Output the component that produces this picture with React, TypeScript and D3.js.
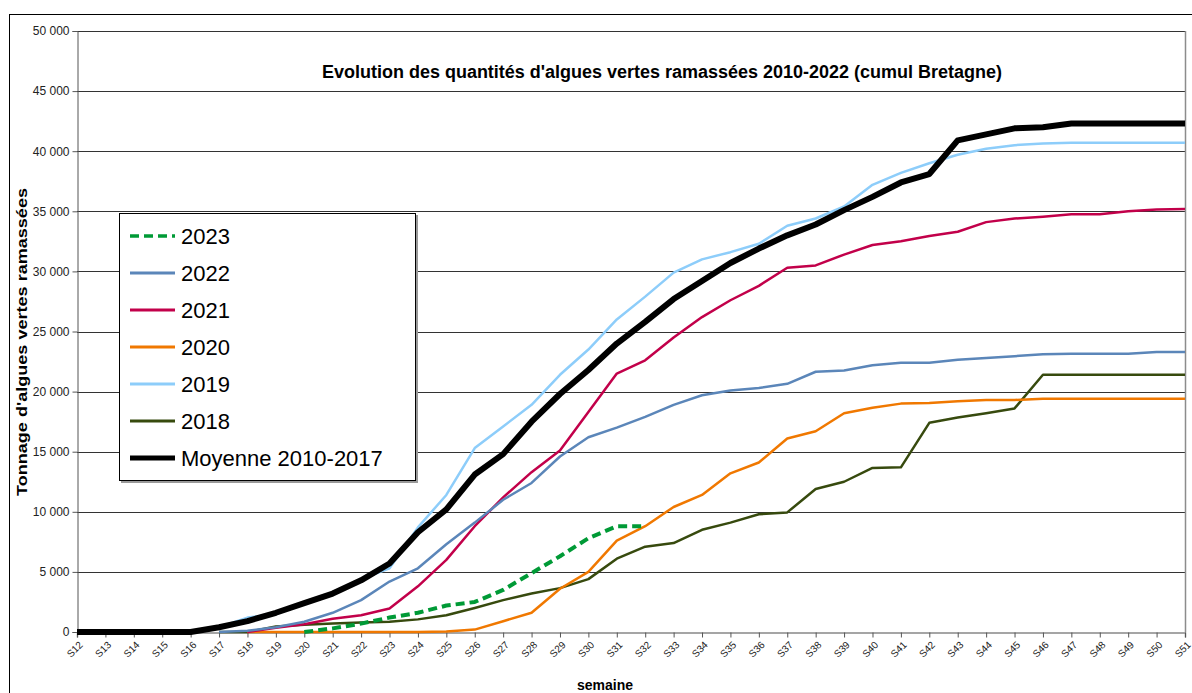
import React, { useEffect, useRef } from "react";
import * as d3 from "d3";

const weeks = [
  "S12", "S13", "S14", "S15", "S16", "S17", "S18", "S19", "S20", "S21",
  "S22", "S23", "S24", "S25", "S26", "S27", "S28", "S29", "S30", "S31",
  "S32", "S33", "S34", "S35", "S36", "S37", "S38", "S39", "S40", "S41",
  "S42", "S43", "S44", "S45", "S46", "S47", "S48", "S49", "S50", "S51",
];

const yTicks = [0, 5000, 10000, 15000, 20000, 25000, 30000, 35000, 40000, 45000, 50000];

const N = null;

const moyenne = [
  0, 0, 0, 0, 0, 400, 900, 1600, 2400, 3200,
  4300, 5700, 8300, 10200, 13100, 14800, 17500, 19800, 21800, 24000,
  25800, 27700, 29200, 30700, 31900, 33000, 33900, 35100, 36200, 37400,
  38100, 40900, 41400, 41900, 42000, 42300, 42300, 42300, 42300, 42300,
];

const y2019 = [
  N, N, N, N, 0, 400, 1200, 1500, 2400, 3200,
  4400, 5300, 8700, 11400, 15300, 17100, 18900, 21400, 23500, 26000,
  27900, 29900, 31000, 31600, 32300, 33800, 34400, 35400, 37200, 38200,
  39000, 39700, 40200, 40500, 40650, 40700, 40700, 40700, 40700, 40700,
];

const y2022 = [
  N, N, N, N, N, 0, 100, 400, 850, 1600,
  2650, 4200, 5300, 7300, 9100, 11000, 12400, 14600, 16200, 17000,
  17900, 18900, 19700, 20100, 20300, 20650, 21650, 21750, 22200, 22400,
  22400, 22650, 22800, 22950, 23100, 23150, 23150, 23150, 23300, 23300,
];

const y2021 = [
  N, N, N, N, N, N, 0, 350, 650, 1100,
  1400, 1950, 3800, 6000, 8800, 11200, 13300, 15100, 18300, 21500,
  22600, 24500, 26200, 27600, 28800, 30300, 30500, 31400, 32200, 32500,
  32950, 33300, 34100, 34400, 34550, 34750, 34750, 35000, 35150, 35200,
];

const y2020 = [
  N, N, N, N, N, N, 0, 0, 0, 0,
  0, 0, 0, 50, 200, 900, 1600, 3600, 5000, 7600,
  8800, 10400, 11400, 13200, 14100, 16100, 16700, 18200, 18650, 19000,
  19050, 19200, 19300, 19300, 19400, 19400, 19400, 19400, 19400, 19400,
];

const y2018 = [
  N, N, N, N, N, 0, 0, 450, 600, 700,
  800, 850, 1050, 1400, 2000, 2650, 3200, 3650, 4400, 6100,
  7100, 7400, 8500, 9100, 9800, 9950, 11900, 12500, 13650, 13700,
  17400, 17850, 18200, 18600, 21400, 21400, 21400, 21400, 21400, 21400,
];

const y2023 = [
  N, N, N, N, N, N, N, N, 0, 300,
  700, 1200, 1600, 2200, 2500, 3500, 4900, 6300, 7800, 8800,
  8800, N, N, N, N, N, N, N, N, N,
  N, N, N, N, N, N, N, N, N, N,
];

const series = [
  { name: "2023", values: y2023, color: "#009a36", width: 4, dash: "9,5" },
  { name: "2022", values: y2022, color: "#5b86b9", width: 2.5, dash: null },
  { name: "2021", values: y2021, color: "#c2004a", width: 2.5, dash: null },
  { name: "2020", values: y2020, color: "#f07800", width: 2.5, dash: null },
  { name: "2019", values: y2019, color: "#8dcdfa", width: 2.5, dash: null },
  { name: "2018", values: y2018, color: "#374a0e", width: 2.5, dash: null },
  { name: "Moyenne 2010-2017", values: moyenne, color: "#000000", width: 6, dash: null },
];

// order in which the lines are painted (last one on top)
const drawOrder = ["2018", "2019", "2020", "2021", "2022", "Moyenne 2010-2017", "2023"];

const FONT = "'Liberation Sans', Arial, sans-serif";

const App = () => {
  const svgRef = useRef(null);

  useEffect(() => {
    const svg = d3.select(svgRef.current);
    svg.selectAll("*").remove();

    const width = 1192;
    const height = 693;
    const plot = { left: 77, right: 1185, top: 31, bottom: 632 };

    const x = d3
      .scalePoint()
      .domain(weeks)
      .range([plot.left, plot.right]);
    const y = d3
      .scaleLinear()
      .domain([0, 50000])
      .range([plot.bottom, plot.top]);

    svg.attr("font-family", FONT);

    // background + outer chart border
    svg.append("rect").attr("width", width).attr("height", height).attr("fill", "#fff");
    svg
      .append("rect")
      .attr("x", 9.5)
      .attr("y", 14.5)
      .attr("width", 1210)
      .attr("height", 700)
      .attr("fill", "none")
      .attr("stroke", "#000")
      .attr("stroke-width", 1);

    // horizontal grid lines
    svg
      .append("g")
      .selectAll("line")
      .data(yTicks.slice(1))
      .join("line")
      .attr("x1", plot.left)
      .attr("x2", plot.right)
      .attr("y1", (d) => Math.round(y(d)) + 0.5)
      .attr("y2", (d) => Math.round(y(d)) + 0.5)
      .attr("stroke", "#333")
      .attr("stroke-width", 1);

    // right plot border
    svg
      .append("line")
      .attr("x1", plot.right + 0.5)
      .attr("x2", plot.right + 0.5)
      .attr("y1", plot.top)
      .attr("y2", plot.bottom)
      .attr("stroke", "#8c8c8c")
      .attr("stroke-width", 1.5);

    // y axis
    const yAxis = d3
      .axisLeft(y)
      .tickValues(yTicks)
      .tickSize(5)
      .tickPadding(3)
      .tickFormat((d) => d3.format(",")(d).replace(/,/g, " "));
    const gy = svg
      .append("g")
      .attr("transform", `translate(${plot.left + 0.5},0)`)
      .call(yAxis);
    gy.select(".domain").attr("stroke", "#555");
    gy.selectAll(".tick line").attr("stroke", "#555");
    gy.selectAll(".tick text")
      .attr("font-size", 12)
      .attr("font-family", FONT)
      .attr("fill", "#222");

    // x axis
    const xAxis = d3.axisBottom(x).tickSize(5).tickFormat("");
    const gx = svg
      .append("g")
      .attr("transform", `translate(0,${plot.bottom + 0.5})`)
      .call(xAxis);
    gx.select(".domain").attr("stroke", "#888").attr("stroke-width", 1.5);
    gx.selectAll(".tick line").attr("stroke", "#555");

    svg
      .append("g")
      .selectAll("text")
      .data(weeks)
      .join("text")
      .attr("transform", (d) => `translate(${x(d) + 4},${plot.bottom + 11}) rotate(-45)`)
      .attr("text-anchor", "end")
      .attr("dy", "0.35em")
      .attr("font-size", 10)
      .attr("fill", "#222")
      .text((d) => d);

    // lines
    const line = d3
      .line()
      .defined((d) => d != null)
      .x((d, i) => x(weeks[i]))
      .y((d) => y(d));

    drawOrder.forEach((name) => {
      const s = series.find((e) => e.name === name);
      svg
        .append("path")
        .datum(s.values)
        .attr("fill", "none")
        .attr("stroke", s.color)
        .attr("stroke-width", s.width)
        .attr("stroke-linejoin", "round")
        .attr("stroke-dasharray", s.dash)
        .attr("d", line);
    });

    // title
    svg
      .append("text")
      .attr("x", 662)
      .attr("y", 78)
      .attr("text-anchor", "middle")
      .attr("font-size", 18)
      .attr("font-weight", "bold")
      .attr("textLength", 680)
      .attr("lengthAdjust", "spacingAndGlyphs")
      .text("Evolution des quantités d'algues vertes ramassées 2010-2022 (cumul Bretagne)");

    // axis titles
    svg
      .append("text")
      .attr("transform", `translate(27,342) rotate(-90)`)
      .attr("text-anchor", "middle")
      .attr("font-size", 15)
      .attr("font-weight", "bold")
      .attr("textLength", 308)
      .attr("lengthAdjust", "spacingAndGlyphs")
      .text("Tonnage d'algues vertes ramassées");

    svg
      .append("text")
      .attr("x", 605)
      .attr("y", 690)
      .attr("text-anchor", "middle")
      .attr("font-size", 14)
      .attr("font-weight", "bold")
      .text("semaine");

    // legend
    const legend = svg.append("g");
    legend
      .append("rect")
      .attr("x", 121)
      .attr("y", 215)
      .attr("width", 297)
      .attr("height", 268)
      .attr("fill", "#9a9a9a");
    legend
      .append("rect")
      .attr("x", 119.5)
      .attr("y", 213.5)
      .attr("width", 296)
      .attr("height", 267)
      .attr("fill", "#fff")
      .attr("stroke", "#000")
      .attr("stroke-width", 1);

    series.forEach((s, i) => {
      const cy = 236 + i * 37;
      legend
        .append("line")
        .attr("x1", 130)
        .attr("x2", 175)
        .attr("y1", cy)
        .attr("y2", cy)
        .attr("stroke", s.color)
        .attr("stroke-width", s.name === "2023" ? 3.5 : s.width === 6 ? 5 : 3)
        .attr("stroke-dasharray", s.dash ? "9,5" : null);
      legend
        .append("text")
        .attr("x", 181)
        .attr("y", cy)
        .attr("dy", "0.36em")
        .attr("font-size", 22)
        .attr("fill", "#000")
        .text(s.name);
    });
  }, []);

  return (
    <svg
      ref={svgRef}
      width={1192}
      height={693}
      style={{ position: "absolute", left: 0, top: 0, display: "block" }}
    />
  );
};

export default App;
